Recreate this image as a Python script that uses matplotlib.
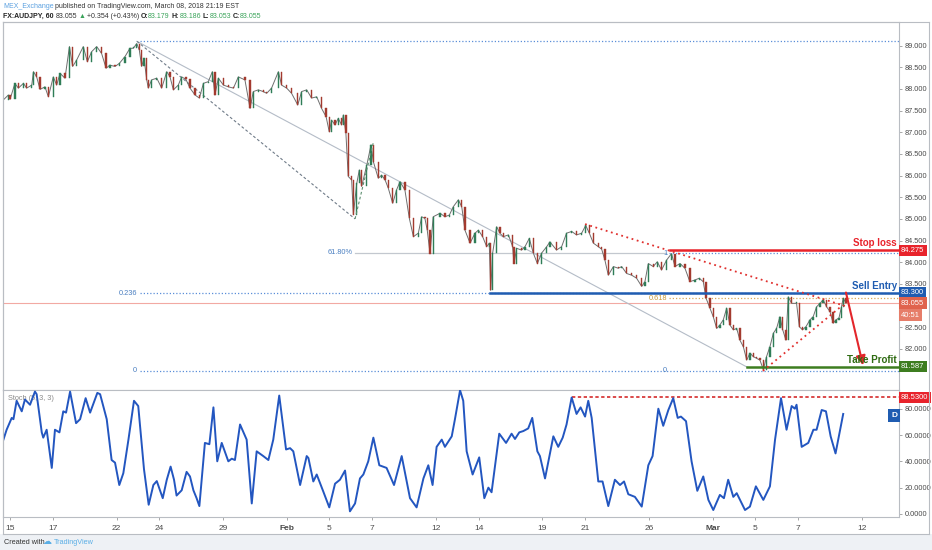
import matplotlib
matplotlib.use('Agg')
import matplotlib.pyplot as plt
from matplotlib.transforms import blended_transform_factory
from matplotlib.patches import Rectangle
from matplotlib.lines import Line2D
from matplotlib import font_manager

_names = {f.name for f in font_manager.fontManager.ttflist}
NARROW = 'Liberation Sans Narrow' if 'Liberation Sans Narrow' in _names else 'Liberation Sans'
plt.rcParams['font.family'] = ['Liberation Sans', 'DejaVu Sans']

W, H = 932, 550

# ---------------- data (time = trading days since the Jan 15 2018 session open) ----------------
price_t = [-0.31, -0.08, 0.00, 0.23, 0.39, 0.63, 0.78, 1.02, 1.10, 1.25, 1.41, 1.64, 1.80, 2.03, 2.19,
           2.35, 2.58, 2.79, 2.94, 3.13, 3.44, 3.63, 3.83, 4.07, 4.30, 4.51, 4.69, 4.93, 5.13, 5.40,
           5.63, 5.79, 5.95, 6.07, 6.18, 6.29, 6.42, 6.49, 6.65, 6.89, 7.12, 7.36, 7.51, 7.67, 7.90,
           8.06, 8.26, 8.45, 8.69, 8.89, 9.08, 9.31, 9.50, 9.62, 9.78, 10.02, 10.25, 10.49, 10.72,
           11.03, 11.27, 11.42, 11.66, 11.89, 12.05, 12.28, 12.60, 12.75, 12.99, 13.22, 13.51, 13.69,
           13.93, 14.16, 14.40, 14.63, 14.84, 14.99, 15.10, 15.26, 15.41, 15.57, 15.65, 15.77, 15.88,
           16.04, 16.12, 16.28, 16.40, 16.51, 16.75, 16.95, 17.06, 17.29, 17.45, 17.61, 17.76, 17.97,
           18.15, 18.31, 18.54, 18.75, 18.94, 19.17, 19.33, 19.48, 19.59, 19.72, 19.87, 20.19, 20.42,
           20.63, 20.81, 21.05, 21.21, 21.36, 21.60, 21.83, 21.99, 22.19, 22.38, 22.50, 22.57, 22.66,
           22.85, 23.00, 23.16, 23.40, 23.60, 23.66, 23.79, 24.02, 24.18, 24.38, 24.57, 24.76, 24.96,
           25.20, 25.35, 25.66, 25.90, 26.13, 26.37, 26.60, 26.84, 27.03, 27.20, 27.39, 27.62, 27.78,
           27.93, 28.09, 28.33, 28.56, 28.72, 28.95, 29.19, 29.42, 29.66, 29.81, 29.97, 30.20, 30.39,
           30.59, 30.83, 31.06, 31.22, 31.46, 31.69, 31.92, 32.16, 32.36, 32.55, 32.68, 32.86, 33.02,
           33.18, 33.33, 33.49, 33.65, 33.80, 33.96, 34.12, 34.27, 34.43, 34.59, 34.74, 34.90, 35.06,
           35.21, 35.37, 35.52, 35.68, 35.84, 35.99, 36.15, 36.28, 36.43, 36.54, 36.70, 36.93, 37.06,
           37.21, 37.37, 37.56, 37.71, 37.87, 38.03, 38.18, 38.34, 38.50, 38.65, 38.78, 38.92, 39.04,
           39.12, 39.25]
price_close = [87.75, 87.86, 87.76, 88.13, 88.02, 88.13, 88.02, 88.09, 88.40, 88.28, 87.99, 88.05, 87.82,
               88.28, 88.09, 88.36, 88.25, 88.98, 88.52, 88.67, 88.98, 88.63, 88.86, 88.98, 88.82, 88.48,
               88.55, 88.52, 88.59, 88.75, 88.94, 88.94, 89.05, 88.90, 88.52, 88.71, 88.21, 88.02, 88.21,
               88.25, 88.02, 88.40, 88.28, 87.98, 88.09, 88.28, 88.22, 88.02, 87.86, 87.79, 88.13, 88.17,
               88.40, 87.86, 88.25, 88.09, 88.05, 88.02, 88.28, 88.21, 87.55, 87.94, 87.98, 87.94, 87.90,
               88.02, 88.40, 88.09, 88.02, 87.90, 87.63, 87.94, 87.98, 87.79, 87.82, 87.55, 87.36, 87.01,
               87.28, 87.17, 87.32, 87.17, 87.40, 86.98, 85.98, 85.90, 85.10, 85.82, 86.13, 85.75, 86.24,
               86.71, 86.32, 85.94, 86.01, 85.90, 85.71, 85.36, 85.67, 85.86, 85.67, 85.01, 84.59, 84.67,
               85.05, 85.01, 84.74, 84.20, 85.05, 85.13, 85.05, 85.09, 85.28, 85.44, 85.28, 84.74, 84.44,
               84.67, 84.74, 84.59, 84.36, 84.44, 83.35, 84.21, 84.82, 84.67, 84.59, 84.63, 84.36, 83.97,
               84.32, 84.28, 84.36, 84.55, 84.21, 83.97, 84.21, 84.36, 84.47, 84.28, 84.36, 84.67, 84.71,
               84.63, 84.67, 84.85, 84.67, 84.44, 84.36, 84.30, 84.05, 83.70, 83.90, 83.86, 83.90, 83.74,
               83.70, 83.63, 83.44, 83.55, 83.97, 83.90, 84.01, 83.82, 84.05, 84.20, 83.90, 83.97, 83.86,
               83.55, 83.59, 83.63, 83.55, 83.17, 82.94, 82.74, 82.47, 82.55, 82.67, 82.94, 82.55, 82.44,
               82.47, 82.20, 82.05, 81.74, 81.90, 81.82, 81.78, 81.74, 81.52, 81.82, 82.05, 82.36, 82.47,
               82.74, 82.44, 82.20, 83.20, 83.05, 83.05, 82.51, 82.44, 82.51, 82.67, 82.74, 82.97, 83.05,
               83.13, 82.97, 82.86, 82.59, 82.67, 82.71, 82.97, 83.17, 83.055]

stoch_t = [-0.31, -0.16, 0.08, 0.16, 0.31, 0.55, 0.70, 0.94, 1.17, 1.25, 1.49, 1.56, 1.72, 1.96, 2.11,
           2.32, 2.50, 2.63, 2.82, 3.10, 3.29, 3.55, 3.76, 4.10, 4.23, 4.54, 4.77, 4.93, 5.13, 5.32,
           5.56, 5.82, 6.02, 6.29, 6.51, 6.73, 6.89, 7.17, 7.36, 7.54, 7.70, 7.82, 8.06, 8.29, 8.45,
           8.61, 8.76, 8.89, 9.15, 9.36, 9.55, 9.73, 9.94, 10.25, 10.41, 10.56, 10.80, 11.11, 11.35,
           11.58, 11.89, 12.13, 12.36, 12.64, 12.96, 13.15, 13.30, 13.62, 13.93, 14.01, 14.24, 14.40,
           14.71, 14.99, 15.26, 15.49, 15.73, 15.96, 16.20, 16.43, 16.59, 16.82, 17.06, 17.34, 17.68,
           18.03, 18.39, 18.78, 19.09, 19.41, 19.64, 19.84, 20.03, 20.27, 20.42, 20.74, 20.89, 21.13,
           21.28, 21.44, 21.72, 22.03, 22.27, 22.46, 22.61, 22.97, 23.29, 23.55, 23.71, 23.91, 24.10,
           24.33, 24.52, 24.76, 24.88, 25.12, 25.51, 25.74, 25.95, 26.13, 26.37, 26.60, 26.79, 27.00,
           27.15, 27.31, 27.62, 27.82, 28.09, 28.40, 28.64, 28.83, 29.03, 29.34, 29.66, 29.97, 30.17,
           30.44, 30.67, 30.91, 31.14, 31.35, 31.50, 31.74, 32.00, 32.27, 32.55, 32.79, 33.02, 33.33,
           33.52, 33.72, 33.96, 34.12, 34.51, 34.74, 35.02, 35.37, 35.68, 35.92, 36.20, 36.46, 36.70,
           36.85, 36.93, 37.17, 37.48, 37.72, 37.87, 38.11, 38.31, 38.53, 38.76, 39.12]
stoch_val = [56.5, 64, 73, 72, 86, 78, 87, 83, 93, 91, 62, 58, 64, 35, 64, 62, 78, 77, 93, 69, 72, 88, 77,
             92, 91, 72, 41, 39, 22, 31, 56.5, 86, 82, 34, 7, 22, 25, 12, 26, 36, 26, 14, 18, 32, 28.5,
             18, 12, 6, 54, 53, 81, 40, 54, 40, 42, 41, 68, 56.5, 8, 47.6, 44, 41, 56.5, 90, 49, 50, 47.6,
             22, 44, 42.5, 24.7, 30, 17, 5, 23, 26, 33, 2, 8, 27, 30, 40, 58, 37, 35, 22, 44, 12, 5, 27,
             37, 22, 51, 56.5, 51, 59, 72, 94, 86, 47.6, 30, 43, 12, 20, 16.5, 61, 54, 61, 57, 62, 63, 65,
             73, 47.6, 44, 27, 59, 51, 58, 68, 88.5, 76, 81, 74, 86, 73, 24.7, 24.7, 6, 26, 22, 24.7, 15,
             13, 5.6, 37, 44, 80, 67, 79, 88, 73, 74, 70.5, 40, 17.6, 28.5, 10.7, 3, 14.5, 12, 26, 13,
             15.8, 3, 5.6, 21, 10.7, 21, 56.5, 88, 64, 82, 80, 83, 51, 54, 64, 64, 79, 78, 59, 46, 76]

date_ticks = [0, 2, 5, 7, 10, 13, 15, 17, 20, 22, 25, 27, 30, 33, 35, 37, 40]
date_labels = ['15', '17', '22', '24', '29', 'Feb', '5', '7', '12', '14', '19', '21', '26', 'Mar', '5', '7', '12']
price_ticks = [82.0, 82.5, 83.5, 84.0, 84.5, 85.0, 85.5, 86.0, 86.5, 87.0, 87.5, 88.0, 88.5, 89.0]
stoch_ticks = [0, 20, 40, 60, 80]

stop_loss = 84.275
sell_entry = 83.300
take_profit = 81.587
last_price = 83.055
countdown = '40:51'
stoch_level = 88.53

fib_a_hi, fib_a_lo = 89.10, 81.49       # retracement from the January high
fib_b_hi, fib_b_lo = 84.21, 81.49       # retracement from the Feb 28 high
ext_level = 84.22                        # 61.80 % extension level

# anchor points of drawn tools (time, price)
gray_trend = [(5.96, 89.10), (34.6, 81.58)]
dash_trend_1 = [(5.96, 89.10), (16.2, 85.00)]
dash_trend_2 = [(16.2, 85.00), (17.05, 86.75)]
wedge_upper = [(27.0, 84.88), (39.2, 82.99)]
wedge_lower = [(35.35, 81.49), (39.1, 83.01)]
arrow_from = (39.25, 83.30)
arrow_to = (40.05, 81.62)
start_fib_a = 6.1
start_fib_b = 30.95
start_ext, end_ext = 16.2, 30.8
start_sell = 22.55
start_stop = 31.0
start_tp = 34.6
start_stoch_level = 26.38

# ---------------- figure ----------------
fig = plt.figure(figsize=(W / 100, H / 100), dpi=100)
fig.patch.set_facecolor('white')


def rect(x0, y0, x1, y1):
    return [x0 / W, 1 - y1 / H, (x1 - x0) / W, (y1 - y0) / H]


ax = fig.add_axes(rect(3, 22, 899, 390))
axs = fig.add_axes(rect(3, 390, 899, 517), sharex=ax)

SP = '#b9bdc3'
TICK_FS = 5.3
for a in (ax, axs):
    a.set_facecolor('white')
    for s in a.spines.values():
        s.set_color(SP)
        s.set_linewidth(0.8)
    a.yaxis.tick_right()
    a.tick_params(axis='y', labelsize=TICK_FS, labelcolor='#4a4a4a', color='#9a9a9a', length=2.5, pad=1.5,
                  width=0.6)

ax.set_xlim(-0.33, 41.74)
ax.set_ylim(81.049, 89.547)
axs.set_ylim(-2.3, 94.2)

ax.set_yticks(price_ticks)
ax.set_yticklabels(['%.3f' % v for v in price_ticks], family=NARROW)
axs.set_yticks(stoch_ticks)
axs.set_yticklabels(['%.4f' % v for v in stoch_ticks], family=NARROW)
ax.tick_params(axis='x', length=0, labelbottom=False)
axs.set_xticks(date_ticks)
axs.set_xticklabels(date_labels, family=NARROW)
axs.tick_params(axis='x', labelsize=6, labelcolor='#4a4a4a', color='#9a9a9a', length=2.5, pad=3, width=0.6)
for lab in axs.get_xticklabels():
    if lab.get_text() in ('Feb', 'Mar'):
        lab.set_fontweight('bold')

xr = ax.get_xlim()[1]

# current price line
ax.axhline(last_price, color='#f2a9a3', lw=0.8, zorder=1)

# fib retracement A
ax.plot([start_fib_a, xr], [fib_a_hi] * 2, color='#5b8fd8', lw=0.9, ls=(0, (1, 1.6)), zorder=1)
lvl236 = fib_a_lo + 0.236 * (fib_a_hi - fib_a_lo)
ax.plot([start_fib_a, xr], [lvl236] * 2, color='#5b8fd8', lw=0.9, ls=(0, (1, 1.6)), zorder=1)
ax.plot([start_fib_a, xr], [fib_a_lo] * 2, color='#5b8fd8', lw=0.9, ls=(0, (1, 1.6)), zorder=1)
ax.text(start_fib_a - 0.15, lvl236, '0.236', color='#4a7fc1', fontsize=5.3, ha='right', va='center',
        family=NARROW)
ax.text(start_fib_a - 0.15, fib_a_lo, '0', color='#4a7fc1', fontsize=5.3, ha='right', va='center', family=NARROW)

# fib retracement B
ax.plot([start_fib_b, xr], [fib_b_hi] * 2, color='#5b8fd8', lw=0.9, ls=(0, (1, 1.6)), zorder=1)
lvl618 = fib_b_lo + 0.618 * (fib_b_hi - fib_b_lo)
ax.plot([start_fib_b, xr], [lvl618] * 2, color='#d9a85a', lw=0.9, ls=(0, (1, 1.6)), zorder=1)
ax.text(start_fib_b - 0.1, fib_b_hi, '1', color='#4a7fc1', fontsize=5.3, ha='right', va='center', family=NARROW)
ax.text(start_fib_b - 0.1, lvl618, '0.618', color='#c99a3c', fontsize=5.3, ha='right', va='center',
        family=NARROW)
ax.text(start_fib_b - 0.1, fib_b_lo, '0', color='#4a7fc1', fontsize=5.3, ha='right', va='center', family=NARROW)

# extension level 61.80%
ax.plot([start_ext, end_ext], [ext_level] * 2, color='#c3c8cf', lw=0.9, zorder=1)
ax.text(start_ext - 0.1, ext_level, '61.80%', color='#4a7fc1', fontsize=5.3, ha='right', va='center',
        family=NARROW)

# trend tools
ax.plot(*zip(*gray_trend), color='#b4bcc7', lw=0.8, zorder=1)
ax.plot(*zip(*dash_trend_1), color='#6f7b88', lw=0.8, ls=(0, (2.5, 2)), zorder=1)
ax.plot(*zip(*dash_trend_2), color='#5d8f70', lw=0.8, ls=(0, (2.5, 2)), zorder=4)

# candles
ax.plot(price_t, price_close, color='#6e6e6e', lw=0.7, zorder=2)
bt, bb, bh, fc = [], [], [], []
for i in range(1, len(price_t)):
    o, c = price_close[i - 1], price_close[i]
    bt.append(price_t[i])
    bb.append(min(o, c))
    bh.append(max(abs(c - o), 0.02))
    fc.append('#2f7d57' if c >= o else '#a33a2f')
ax.bar(bt, bh, bottom=bb, width=0.065, color=fc, edgecolor=fc, linewidth=0.3, zorder=3)

# trade levels
ax.plot([start_sell, xr], [sell_entry] * 2, color='#1f5cb1', lw=1.8, zorder=5)
ax.plot([start_stop, xr], [stop_loss] * 2, color='#e8232b', lw=1.8, zorder=5)
ax.plot([start_tp, xr], [take_profit] * 2, color='#3d7d20', lw=1.8, zorder=5)

# wedge
ax.plot(*zip(*wedge_upper), color='#e0302e', lw=1.3, ls=(0, (1, 2)), zorder=6)
ax.plot(*zip(*wedge_lower), color='#e0302e', lw=1.3, ls=(0, (1, 2)), zorder=6)

# arrow
ax.annotate('', xy=arrow_to, xytext=arrow_from,
            arrowprops=dict(arrowstyle='-|>,head_length=0.55,head_width=0.28', color='#e3262b', lw=1.5,
                            shrinkA=0, shrinkB=0), zorder=7)

# level labels
for txt, lvl, col in [('Stop loss', stop_loss, '#e8232b'), ('Sell Entry', sell_entry, '#1f5cb1'),
                      ('Take Profit', take_profit, '#2f6b12')]:
    ax.annotate(txt, xy=(1, lvl), xycoords=blended_transform_factory(ax.transAxes, ax.transData),
                xytext=(-2, 2), textcoords='offset pixels', ha='right', va='bottom', fontsize=7,
                fontweight='bold', color=col, zorder=8)


# price boxes
def price_box(axis, lvl, txt, col, dy=0):
    axis.annotate(txt, xy=(1, lvl), xycoords=blended_transform_factory(axis.transAxes, axis.transData),
                  xytext=(2, dy), textcoords='offset pixels', ha='left', va='center', fontsize=5.5,
                  family=NARROW, color='white', annotation_clip=False, zorder=10,
                  bbox=dict(boxstyle='square,pad=0.3', fc=col, ec='none'))


price_box(ax, stop_loss, '%.3f' % stop_loss, '#e8232b')
price_box(ax, sell_entry, '%.3f' % sell_entry, '#1f5cb1')
price_box(ax, last_price, '%.3f' % last_price, '#e0634d')
price_box(ax, last_price, countdown, '#e67d69', dy=-12)
price_box(ax, take_profit, '%.3f' % take_profit, '#3d7d20')

# stochastic
axs.plot(stoch_t, stoch_val, color='#2356c0', lw=1.4, solid_joinstyle='round', zorder=3)
axs.plot([start_stoch_level, xr], [stoch_level] * 2, color='#d42b2b', lw=1.2, ls=(0, (2, 1.5)), zorder=2)
price_box(axs, stoch_level, '%.4f' % stoch_level, '#e8232b')
axs.text(1 - 5 / 896, 74.9, 'D', transform=blended_transform_factory(axs.transAxes, axs.transData),
         ha='center', va='center', fontsize=6, fontweight='bold', color='white', zorder=9,
         bbox=dict(boxstyle='square,pad=0.35', fc='#1f5cb1', ec='none'))
axs.text(5 / 896, 1 - 8 / 127, 'Stoch (5, 3, 3)', transform=axs.transAxes, ha='left', va='center',
         fontsize=5.3, color='#8a8a8a', family=NARROW, zorder=1)

# outer frame
fig.add_artist(Line2D([3 / W, 929 / W], [1 - 22 / H] * 2, color=SP, lw=0.8))
fig.add_artist(Line2D([929 / W] * 2, [1 - 22 / H, 1 - 534 / H], color=SP, lw=0.8))
fig.add_artist(Line2D([3 / W] * 2, [1 - 22 / H, 1 - 534 / H], color=SP, lw=0.8))

# bottom bar
fig.add_artist(Rectangle((0, 0), 1, 16 / H, transform=fig.transFigure, fc='#eef1f5', ec='none'))
fig.add_artist(Line2D([3 / W, 929 / W], [1 - 534 / H] * 2, color=SP, lw=0.8))
fig.text(4 / W, 1 - 542 / H, 'Created with', fontsize=5.2, color='#333333', va='center', family=NARROW)
fig.text(43 / W, 1 - 542 / H, '\u2601', fontsize=6.5, color='#5aaee6', va='center', family='DejaVu Sans')
fig.text(54 / W, 1 - 542 / H, 'TradingView', fontsize=5.2, color='#5aaee6', va='center', family=NARROW)

# header
renderer = fig.canvas.get_renderer()


def chain(parts, x, y, fs):
    for txt, col, wt, gap in parts:
        t = fig.text(x / W, 1 - y / H, txt, color=col, fontweight=wt, fontsize=fs,
                     family=[NARROW, 'DejaVu Sans'], va='center', ha='left')
        x += t.get_window_extent(renderer=renderer).width + gap


G = '#3aa35a'
chain([('MEX_Exchange', '#5aa0e0', 'normal', 1.5),
       ('published on TradingView.com, March 08, 2018 21:19 EST', '#333333', 'normal', 0)], 3, 6, 5.0)
chain([('FX:AUDJPY, 60', '#222222', 'bold', 2), ('83.055', '#333333', 'normal', 1.5),
       ('\u25B2', '#3aa35a', 'normal', 1.5), ('+0.354 (+0.43%)', '#333333', 'normal', 1.5),
       ('O:', '#222222', 'bold', 0), ('83.179', G, 'normal', 2), ('H:', '#222222', 'bold', 0),
       ('83.186', G, 'normal', 2), ('L:', '#222222', 'bold', 0), ('83.053', G, 'normal', 2),
       ('C:', '#222222', 'bold', 0), ('83.055', G, 'normal', 0)], 3, 16, 5.0)

fig.savefig('out.png', dpi=100, facecolor='white')
